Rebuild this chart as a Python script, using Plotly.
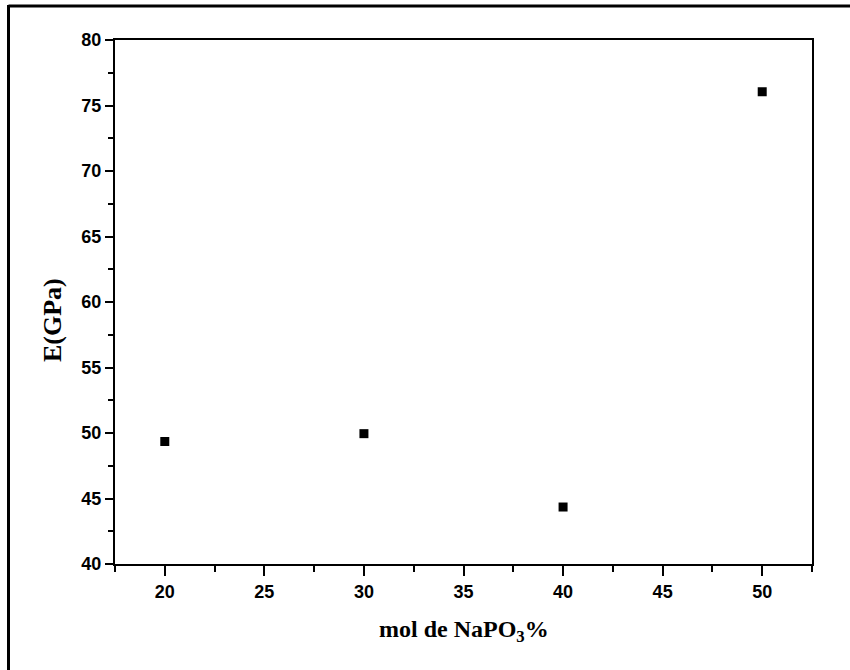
import plotly.graph_objects as go

mol_napo3 = [20, 30, 40, 50]
e_gpa = [49.35, 49.95, 44.35, 76.05]

x_ticks = [20, 25, 30, 35, 40, 45, 50]
y_ticks = [40, 45, 50, 55, 60, 65, 70, 75, 80]

fig = go.Figure()
fig.add_trace(go.Scatter(
    x=mol_napo3, y=e_gpa, mode="markers",
    marker=dict(symbol="square", size=9, color="black", line=dict(width=0)),
    showlegend=False,
))

tick_font = dict(family="Liberation Sans", size=18, color="black", weight="bold")

fig.update_layout(
    width=850, height=670,
    margin=dict(l=115, r=38, t=40, b=106),
    paper_bgcolor="white", plot_bgcolor="white",
    xaxis=dict(
        range=[17.5, 52.5], tickvals=x_ticks, ticktext=[str(v) for v in x_ticks],
        showline=True, linecolor="black", linewidth=2, mirror=True,
        ticks="outside", ticklen=10, tickwidth=2, tickcolor="black",
        minor=dict(ticks="outside", ticklen=6, tickwidth=2, tickcolor="black", dtick=2.5, tick0=17.5),
        showgrid=False, zeroline=False, tickfont=tick_font,
    ),
    yaxis=dict(
        range=[40, 80], tickvals=y_ticks, ticktext=[str(v) for v in y_ticks],
        showline=True, linecolor="black", linewidth=2, mirror=True,
        ticks="outside", ticklen=8, tickwidth=2, tickcolor="black",
        minor=dict(ticks="outside", ticklen=5, tickwidth=2, tickcolor="black", dtick=2.5, tick0=40),
        showgrid=False, zeroline=False, tickfont=tick_font,
    ),
    annotations=[
        dict(text="mol de NaPO<sub>3</sub>%", xref="paper", yref="paper",
             x=0.5, y=-(631 - 564) / 524, xanchor="center", yanchor="middle",
             showarrow=False,
             font=dict(family="Liberation Serif", size=24, color="black", weight="bold")),
        dict(text="E(GPa)", xref="paper", yref="paper",
             x=(52 - 115) / 697, y=(564 - 320) / 524, xanchor="center", yanchor="middle",
             textangle=-90, showarrow=False,
             font=dict(family="Liberation Serif", size=26, color="black", weight="bold")),
    ],
    shapes=[
        dict(type="line", xref="paper", yref="paper",
             x0=(8.5 - 115) / 697, x1=(852 - 115) / 697,
             y0=(564 - 6) / 524, y1=(564 - 6) / 524,
             line=dict(color="black", width=3)),
        dict(type="line", xref="paper", yref="paper",
             x0=(8.5 - 115) / 697, x1=(8.5 - 115) / 697,
             y0=(564 - 5) / 524, y1=(564 - 672) / 524,
             line=dict(color="black", width=3)),
        dict(type="line", xref="paper", yref="paper",
             x0=1, x1=1, y0=0, y1=-6 / 524,
             line=dict(color="black", width=2)),
    ],
)

fig.write_html("out.html")
